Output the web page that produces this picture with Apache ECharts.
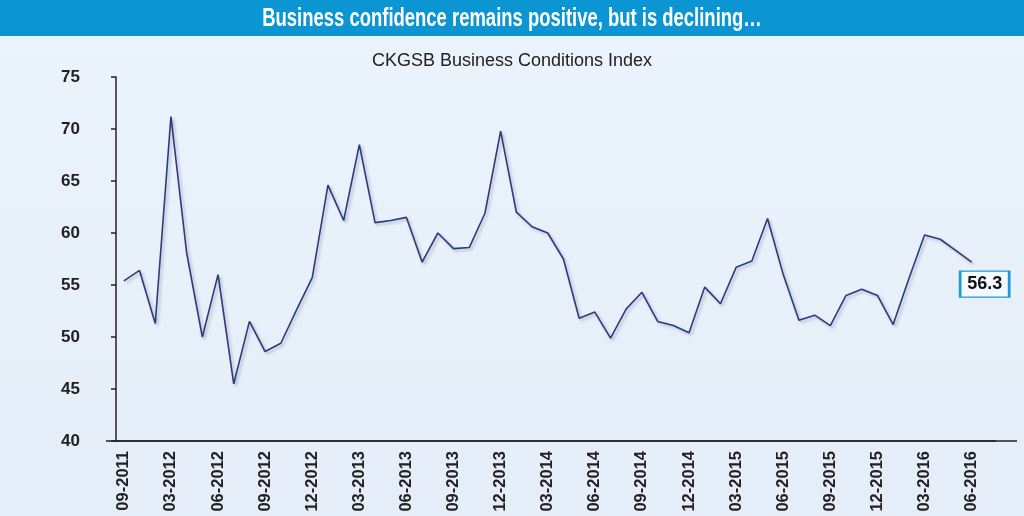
<!DOCTYPE html>
<html>
<head>
<meta charset="utf-8">
<title>CKGSB Business Conditions Index</title>
<script src="https://cdn.jsdelivr.net/npm/echarts@6/dist/echarts.min.js"></script>
<style>
  html, body { margin: 0; padding: 0; }
  #chart { width: 1024px; height: 516px; }
</style>
</head>
<body>
<div id="chart"></div>
<script>
// months on the x axis (last slot is empty, axis runs past the data)
const months = [
  '09-2011', '11-2011', '01-2012',
  '03-2012', '04-2012', '05-2012', '06-2012', '07-2012', '08-2012', '09-2012', '10-2012', '11-2012', '12-2012',
  '01-2013', '02-2013', '03-2013', '04-2013', '05-2013', '06-2013', '07-2013', '08-2013', '09-2013', '10-2013', '11-2013', '12-2013',
  '01-2014', '02-2014', '03-2014', '04-2014', '05-2014', '06-2014', '07-2014', '08-2014', '09-2014', '10-2014', '11-2014', '12-2014',
  '01-2015', '02-2015', '03-2015', '04-2015', '05-2015', '06-2015', '07-2015', '08-2015', '09-2015', '10-2015', '11-2015', '12-2015',
  '01-2016', '02-2016', '03-2016', '04-2016', '05-2016', '06-2016', '07-2016'
]
const bci = [
  55.4, 56.4, 51.3,
  71.2, 58.1, 50.0, 56.0, 45.5, 51.5, 48.6, 49.4, 52.6, 55.7,
  64.6, 61.2, 68.5, 61.0, 61.2, 61.5, 57.2, 60.0, 58.5, 58.6, 61.9, 69.8,
  62.0, 60.6, 60.0, 57.5, 51.8, 52.4, 49.9, 52.7, 54.3, 51.5, 51.1, 50.4,
  54.8, 53.2, 56.7, 57.3, 61.4, 56.0, 51.6, 52.1, 51.1, 54.0, 54.6, 54.0,
  51.2, 55.6, 59.8, 59.4, 58.3, 57.2
]
const yTicks = [40, 45, 50, 55, 60, 65, 70, 75]
const latestLabel = '56.3'

const labelFont = '"Liberation Sans", Arial, sans-serif'

const gridLeft = 116
const gridTop = 77
const gridH = 364
const bandW = 15.7
const gridW = bandW * months.length
const axisY = gridTop + gridH

const chart = echarts.init(document.getElementById('chart'))

chart.setOption({
  animation: false,
  backgroundColor: {
    type: 'linear', x: 0, y: 0, x2: 0, y2: 1,
    colorStops: [{ offset: 0, color: '#ebf3fc' }, { offset: 1, color: '#e5eef8' }]
  },
  graphic: [
    { type: 'rect', shape: { x: 0, y: 0, width: 1024, height: 36 }, style: { fill: '#0b95d3' }, z: -1 },
    {
      type: 'text', x: 512, y: 19, scaleX: 0.71,
      style: {
        text: 'Business confidence remains positive, but is declining…',
        fill: '#fff', font: 'bold 26px "Liberation Sans", Arial, sans-serif',
        textAlign: 'center', textVerticalAlign: 'middle'
      }
    },
    // axis line runs a little past the plot on both ends
    { type: 'line', shape: { x1: gridLeft - 10, y1: axisY, x2: 1017, y2: axisY },
      style: { stroke: '#222', lineWidth: 1.5 } }
  ],
  title: {
    text: 'CKGSB Business Conditions Index',
    left: 'center', top: 47,
    textStyle: { color: '#222', fontFamily: labelFont, fontWeight: 'normal', fontSize: 18 }
  },
  grid: {
    left: gridLeft,
    top: gridTop,
    width: gridW,
    height: gridH,
    containLabel: false
  },
  xAxis: {
    type: 'category',
    data: months,
    boundaryGap: true,
    axisLine: { lineStyle: { color: '#222', width: 1.5 } },
    axisTick: { interval: 0, length: 4, lineStyle: { color: '#222', width: 1.5 } },
    axisLabel: {
      interval: function (idx) { return idx % 3 === 0 && idx < 55 },
      rotate: 90,
      margin: 10,
      color: '#222',
      fontFamily: labelFont,
      fontWeight: 'bold',
      fontSize: 16.5
    },
    splitLine: { show: false }
  },
  yAxis: {
    type: 'value',
    min: yTicks[0],
    max: yTicks[yTicks.length - 1],
    interval: 5,
    axisLine: { show: true, lineStyle: { color: '#222', width: 1.5 } },
    axisTick: { show: true, length: 5, lineStyle: { color: '#222', width: 1.5 } },
    axisLabel: {
      margin: 36,
      color: '#222',
      fontFamily: labelFont,
      fontWeight: 'bold',
      fontSize: 17
    },
    splitLine: { show: false }
  },
  series: [{
    type: 'line',
    data: bci,
    showSymbol: false,
    lineStyle: {
      color: '#2f3a7c',
      width: 1.6,
      shadowColor: 'rgba(40,50,90,0.3)',
      shadowBlur: 3,
      shadowOffsetX: 2,
      shadowOffsetY: 2
    },
    markPoint: {
      symbol: 'rect',
      symbolSize: [49, 26],
      symbolOffset: [13, 22],
      itemStyle: { color: '#f4f9fe', borderColor: '#1b9ad6', borderWidth: 2 },
      label: {
        show: true,
        formatter: latestLabel,
        color: '#111',
        fontFamily: labelFont,
        fontWeight: 'bold',
        fontSize: 18
      },
      data: [{ coord: [bci.length - 1, bci[bci.length - 1]] }]
    }
  }]
})
</script>
</body>
</html>
